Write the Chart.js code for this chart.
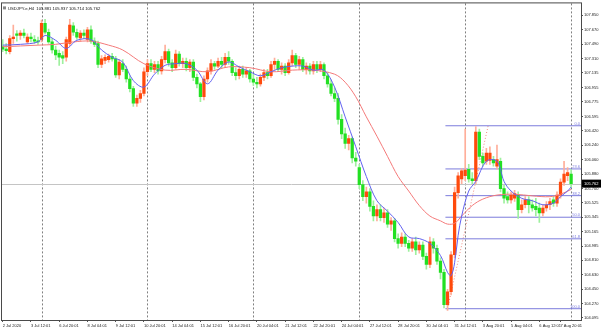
<!DOCTYPE html>
<html>
<head>
<meta charset="utf-8">
<script src="https://cdn.jsdelivr.net/npm/chart.js@4.4.1/dist/chart.umd.min.js"></script>
<style>
  html, body { margin: 0; padding: 0; background: #fff; }
</style>
</head>
<body>
<canvas id="myChart" width="601" height="331"></canvas>
<script>
// USDJPY H4, 2 Jul - 7 Aug 2020 (one entry per 4h bar)
const symbolTitle = 'USDJPY.e,H4';

const opens = [
  107.46,107.43,107.40,107.56,107.62,107.60,107.63,107.52,107.58,107.55,107.53,
  107.55,107.75,107.64,107.52,107.42,107.38,107.35,107.33,107.50,107.72,
  107.64,107.57,107.63,107.55,107.67,107.53,107.50,107.24,107.29,107.30,
  107.34,107.31,107.11,107.25,107.18,107.06,106.94,106.76,106.82,106.88,
  107.15,107.25,107.18,107.24,107.16,107.30,107.40,107.26,107.20,107.37,
  107.25,107.28,107.20,107.27,107.08,107.00,106.84,107.06,107.16,107.25,
  107.22,107.28,107.24,107.33,107.28,107.14,107.10,107.18,107.12,107.16,
  107.06,107.02,107.00,107.08,107.14,107.10,107.24,107.28,107.18,107.22,
  107.14,107.26,107.35,107.24,107.30,107.18,107.22,107.16,107.24,107.18,
  107.24,107.10,107.00,106.88,106.82,106.56,106.38,106.26,106.32,106.08,
  105.96,105.75,105.60,105.66,105.48,105.36,105.44,105.34,105.40,105.26,
  105.30,105.08,105.02,105.10,105.02,104.96,105.04,104.94,105.00,104.86,
  104.76,105.04,104.96,104.80,104.66,104.26,104.42,104.88,105.65,105.82,
  105.86,105.94,105.82,105.80,106.40,106.10,106.04,106.05,106.06,105.98,
  106.04,105.70,105.60,105.56,105.58,105.62,105.44,105.50,105.56,105.50,
  105.48,105.46,105.40,105.46,105.50,105.56,105.52,105.62,105.78,105.86,105.881
];
const highs = [
  107.55,107.50,107.60,107.73,107.66,107.66,107.68,107.62,107.63,107.60,107.58,
  107.79,107.80,107.68,107.56,107.47,107.42,107.40,107.58,107.80,107.76,
  107.68,107.66,107.67,107.70,107.72,107.57,107.53,107.35,107.36,107.37,
  107.38,107.34,107.30,107.30,107.22,107.10,106.97,106.86,106.92,107.20,
  107.30,107.30,107.28,107.28,107.34,107.48,107.43,107.30,107.42,107.40,
  107.32,107.32,107.30,107.30,107.12,107.02,107.10,107.20,107.30,107.28,
  107.32,107.33,107.38,107.40,107.30,107.20,107.22,107.22,107.20,107.18,
  107.12,107.08,107.12,107.18,107.18,107.28,107.32,107.30,107.26,107.25,
  107.30,107.42,107.38,107.34,107.33,107.26,107.25,107.28,107.28,107.28,
  107.26,107.14,107.05,106.95,106.88,106.62,106.45,106.36,106.34,106.15,
  106.00,105.80,105.72,105.70,105.55,105.50,105.50,105.46,105.44,105.34,
  105.33,105.14,105.15,105.14,105.06,105.08,105.10,105.04,105.04,104.90,
  105.10,105.08,105.00,104.84,104.70,104.45,104.92,105.72,105.90,105.95,
  106.44,106.00,105.90,106.47,106.44,106.14,106.20,106.22,106.10,106.24,
  106.08,105.74,105.66,105.66,105.68,105.66,105.56,105.60,105.60,105.56,
  105.58,105.52,105.50,105.54,105.58,105.60,105.66,105.82,106.04,105.96,105.937
];
const lows = [
  107.40,107.37,107.37,107.50,107.53,107.55,107.57,107.50,107.52,107.50,107.49,
  107.52,107.62,107.50,107.38,107.30,107.23,107.25,107.28,107.47,107.60,
  107.55,107.53,107.56,107.52,107.50,107.46,107.20,107.20,107.25,107.27,
  107.28,107.08,107.06,107.15,107.02,106.90,106.72,106.72,106.77,106.85,
  107.10,107.15,107.14,107.12,107.12,107.26,107.22,107.15,107.18,107.22,
  107.20,107.16,107.15,107.04,106.95,106.78,106.80,107.02,107.12,107.18,
  107.20,107.20,107.20,107.24,107.10,107.05,107.06,107.08,107.08,107.02,
  106.98,106.95,106.97,107.04,107.06,107.08,107.18,107.15,107.12,107.10,
  107.12,107.22,107.20,107.18,107.15,107.12,107.12,107.12,107.14,107.15,
  107.06,106.96,106.85,106.78,106.50,106.32,106.20,106.18,106.02,105.98,
  105.70,105.55,105.52,105.42,105.30,105.30,105.30,105.28,105.22,105.18,
  105.04,104.96,104.98,104.98,104.92,104.92,104.88,104.90,104.82,104.70,
  104.72,104.90,104.76,104.58,104.22,104.19,104.38,104.84,105.58,105.76,
  105.80,105.78,105.76,105.76,106.06,105.98,106.00,106.00,105.98,105.94,
  105.66,105.52,105.52,105.52,105.54,105.33,105.40,105.46,105.40,105.42,
  105.36,105.28,105.36,105.42,105.44,105.48,105.48,105.58,105.74,105.80,105.714
];
const closes = [
  107.43,107.41,107.56,107.58,107.60,107.63,107.60,107.58,107.56,107.53,107.52,
  107.75,107.64,107.52,107.42,107.36,107.33,107.32,107.55,107.73,107.64,
  107.58,107.63,107.60,107.67,107.53,107.49,107.24,107.31,107.33,107.34,
  107.31,107.11,107.27,107.18,107.06,106.94,106.76,106.82,106.88,107.15,
  107.25,107.18,107.24,107.16,107.30,107.40,107.26,107.20,107.37,107.25,
  107.28,107.20,107.27,107.08,107.00,106.84,107.06,107.16,107.25,107.22,
  107.28,107.24,107.33,107.28,107.14,107.10,107.18,107.12,107.16,107.06,
  107.02,107.00,107.08,107.14,107.10,107.24,107.28,107.18,107.22,107.14,
  107.26,107.35,107.24,107.30,107.18,107.22,107.16,107.24,107.18,107.24,
  107.10,107.00,106.88,106.82,106.56,106.38,106.26,106.32,106.08,106.04,
  105.75,105.60,105.66,105.48,105.36,105.44,105.34,105.40,105.26,105.30,
  105.08,105.02,105.10,105.02,104.96,105.04,104.94,105.00,104.86,104.76,
  105.04,104.96,104.80,104.66,104.26,104.42,104.88,105.65,105.86,105.92,
  105.93,105.82,105.80,106.40,106.10,106.02,106.14,106.14,106.02,106.06,
  105.70,105.58,105.56,105.62,105.64,105.44,105.50,105.56,105.50,105.46,
  105.44,105.40,105.46,105.50,105.54,105.52,105.62,105.78,105.88,105.90,105.762
];

// date labels, one every 8 bars
const dateLabels = ['2 Jul 2020','3 Jul 12:01','6 Jul 20:01','8 Jul 04:01','9 Jul 12:01',
  '10 Jul 20:01','14 Jul 04:01','15 Jul 12:01','16 Jul 20:01','20 Jul 04:01','21 Jul 12:01',
  '22 Jul 20:01','24 Jul 04:01','27 Jul 12:01','28 Jul 20:01','30 Jul 04:01','31 Jul 12:01',
  '3 Aug 20:01','5 Aug 04:01','6 Aug 12:01','7 Aug 20:01'];
const labelEvery = 8;
const weekStarts = [11, 41, 71, 101, 131, 161];   // monday 00:00 bars

const priceTicks = [107.850,107.670,107.490,107.310,107.135,106.955,106.775,106.595,106.420,
  106.240,106.060,105.880,105.700,105.525,105.345,105.165,104.985,104.810,104.630,104.450,
  104.270,104.095];

// moving averages
const fastMaBars = [0,5,10,12,15,18,21,25,28,31,34,37,40,43,46,49,52,55,58,61,64,67,70,73,76,
  79,82,85,88,91,94,97,100,103,106,109,112,115,118,121,124,126,127,128,129,130,132,134,137,
  140,142,144,147,150,153,156,158,160,161];
const fastMa = [107.48,107.49,107.52,107.60,107.54,107.44,107.54,107.55,107.42,107.33,
  107.27,107.04,106.96,107.12,107.23,107.25,107.25,107.17,107.00,107.17,
  107.27,107.21,107.15,107.10,107.15,107.20,107.22,107.22,107.17,107.17,
  106.96,106.59,106.22,105.85,105.55,105.42,105.28,105.10,105.08,105.02,
  104.87,104.66,104.62,104.78,105.12,105.36,105.67,105.79,106.04,106.04,
  105.79,105.67,105.58,105.55,105.50,105.52,105.60,105.67,105.72];
const slowMaBars = [0,10,15,20,25,30,34,40,46,52,58,64,70,76,82,88,94,97,100,103,106,109,
  112,115,118,121,124,126,128,130,133,136,140,145,150,155,158,161];
const slowMa = [107.46,107.48,107.49,107.52,107.53,107.48,107.42,107.25,107.17,107.18,
  107.15,107.21,107.20,107.15,107.17,107.17,107.12,107.02,106.84,106.59,
  106.35,106.10,105.85,105.67,105.49,105.36,105.30,105.26,105.27,105.36,
  105.49,105.57,105.62,105.63,105.61,105.60,105.63,105.69];

// fibonacci retracement drawn from the 31 Jul low to the 3 Aug high
const fibLevels = [0, 23.6, 38.2, 50, 61.8, 100];
const fibHigh = 106.48;
const fibLow = 104.21;
const fibLowBar = 126;
const fibHighBar = 137.5;

const xMin = -0.2, xMax = 163.8;
const yMin = 104.07, yMax = 107.998;

const upBody = '#ff4a0c', downBody = '#22e022';
const upWick = '#ffae9a', downWick = '#9ef09e';
const fibColor = '#7c7cdc';
const font = {family: 'Liberation Sans', size: 4};

var ctx = document.getElementById('myChart').getContext('2d');

const isUp = closes.map((c, i) => c >= opens[i]);
const fibPrice = lvl => fibHigh - (fibHigh - fibLow) * lvl / 100;

const datasets = [];
datasets.push({
  type: 'line', label: 'fast', order: 0,
  data: fastMaBars.map((b, k) => ({x: b, y: fastMa[k]})),
  borderColor: '#6262f0', borderWidth: 1, pointRadius: 0, tension: 0.35
});
datasets.push({
  type: 'line', label: 'slow', order: 0,
  data: slowMaBars.map((b, k) => ({x: b, y: slowMa[k]})),
  borderColor: '#f47a7a', borderWidth: 1, pointRadius: 0, tension: 0.35
});
datasets.push({
  type: 'bar', label: 'body', order: 1, grouped: false,
  data: opens.map((o, i) => ({x: i, y: [o, closes[i]]})),
  backgroundColor: isUp.map(u => u ? upBody : downBody),
  barThickness: 2.6, minBarLength: 1, borderWidth: 0
});
datasets.push({
  type: 'bar', label: 'wick', order: 2, grouped: false,
  data: lows.map((l, i) => ({x: i, y: [l, highs[i]]})),
  backgroundColor: isUp.map(u => u ? upWick : downWick),
  barThickness: 1, borderWidth: 0
});
fibLevels.forEach(lvl => {
  datasets.push({
    type: 'line', label: 'fib' + lvl, order: 3,
    data: [{x: fibLowBar - 0.6, y: fibPrice(lvl)}, {x: xMax, y: fibPrice(lvl)}],
    borderColor: fibColor, borderWidth: 1, pointRadius: 0
  });
});
datasets.push({
  type: 'line', label: 'fibTrend', order: 3,
  data: [{x: fibLowBar, y: fibLow}, {x: fibHighBar, y: fibHigh}],
  borderColor: '#f08a80', borderWidth: 1, borderDash: [1, 2], pointRadius: 0
});

const lastClose = closes[closes.length - 1];

const mt4Extras = {
  id: 'mt4Extras',
  beforeDatasetsDraw(chart) {
    const {ctx: c, chartArea: a, scales: {x, y}} = chart;
    c.save();
    // week separators
    c.strokeStyle = '#808080';
    c.lineWidth = 1;
    c.setLineDash([2, 2]);
    weekStarts.forEach(b => {
      const px = Math.round(x.getPixelForValue(b)) + 0.5;
      c.beginPath(); c.moveTo(px, a.top); c.lineTo(px, a.bottom); c.stroke();
    });
    c.setLineDash([]);
    // bid line
    const py = Math.round(y.getPixelForValue(lastClose)) + 0.5;
    c.strokeStyle = '#c4c4c4';
    c.beginPath(); c.moveTo(a.left, py); c.lineTo(a.right, py); c.stroke();
    c.restore();
  },
  afterDatasetsDraw(chart) {
    const {ctx: c, chartArea: a, scales: {y}} = chart;
    c.save();
    c.font = '4px "Liberation Sans"';
    c.fillStyle = fibColor;
    c.textAlign = 'right';
    c.textBaseline = 'bottom';
    fibLevels.forEach(lvl => {
      c.fillText(lvl.toFixed(1), a.right - 1, y.getPixelForValue(fibPrice(lvl)));
    });
    c.restore();
  },
  afterDraw(chart) {
    const {ctx: c, chartArea: a, scales: {y}} = chart;
    c.save();
    // frame
    c.strokeStyle = '#4a4a4a';
    c.lineWidth = 1;
    c.strokeRect(a.left - 0.5, a.top - 0.5, a.right - a.left + 1, a.bottom - a.top + 1);
    // header
    c.font = '4.2px "Liberation Sans"';
    c.fillStyle = '#111';
    c.textBaseline = 'middle';
    c.fillText(symbolTitle + '  ' + [opens, highs, lows, closes]
      .map(arr => arr[arr.length - 1].toFixed(3)).join(' '), a.left + 6, a.top + 5);
    c.fillStyle = '#888';
    c.fillRect(a.left + 1, a.top + 3, 3, 3);
    // price tag
    const py = y.getPixelForValue(lastClose);
    c.fillStyle = '#000';
    c.fillRect(a.right + 1, py - 4, 19, 8);
    c.fillStyle = '#fff';
    c.textAlign = 'left';
    c.font = '4px "Liberation Sans"';
    c.fillText(lastClose.toFixed(3), a.right + 3, py);
    c.restore();
  }
};

new Chart(ctx, {
  type: 'bar',
  data: {datasets: datasets},
  options: {
    responsive: false,
    animation: false,
    devicePixelRatio: 1,
    layout: {padding: {left: 2, top: 1, right: 0, bottom: 0}},
    plugins: {legend: {display: false}, tooltip: {enabled: false}},
    scales: {
      x: {
        type: 'linear', min: xMin, max: xMax, offset: false,
        grid: {drawOnChartArea: false, drawTicks: true, tickLength: 2, color: '#555', offset: false},
        border: {display: true, color: '#4a4a4a'},
        ticks: {
          font: font, color: '#222', align: 'start', maxRotation: 0, autoSkip: false, padding: 1,
          callback: (v, i) => dateLabels[i]
        },
        afterBuildTicks: s => {
          // MT4 pulls the last date back so it ends at the price axis
          s.ticks = dateLabels.map((t, k) => ({value: Math.min(k * labelEvery, 158)}));
        },
        afterFit: s => { s.height = 11; }
      },
      y: {
        position: 'right', min: yMin, max: yMax,
        grid: {drawOnChartArea: false, drawTicks: true, tickLength: 2, color: '#555'},
        border: {display: true, color: '#4a4a4a'},
        ticks: {font: font, color: '#222', padding: 1, callback: v => v.toFixed(3)},
        afterBuildTicks: s => { s.ticks = priceTicks.map(v => ({value: v})); },
        afterFit: s => { s.width = 20; }
      }
    }
  },
  plugins: [mt4Extras]
});
</script>
</body>
</html>
